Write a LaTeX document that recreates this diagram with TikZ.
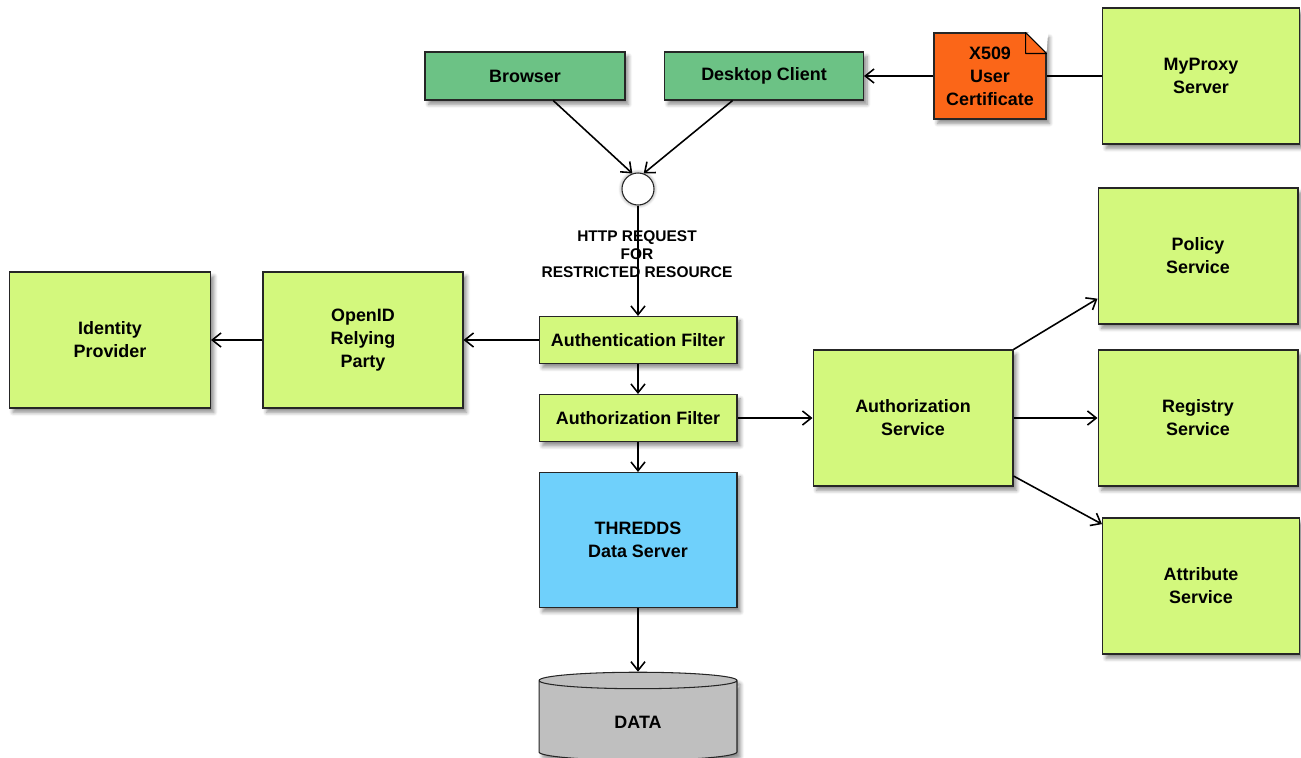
\documentclass[tikz,border=0pt]{standalone}
\usepackage{fontspec}
\setmainfont{Liberation Sans}
\usetikzlibrary{shapes.geometric,shadows.blur,arrows.meta}
\definecolor{svcgreen}{HTML}{D3F87D}
\definecolor{clientgreen}{HTML}{6CC285}
\definecolor{certorange}{HTML}{FB6618}
\definecolor{tdsblue}{HTML}{6FD0FB}

\begin{document}
\begin{tikzpicture}[x=0.02cm,y=-0.02cm,
  box/.style={draw=black!85, line width=0.6pt, align=center,
    font=\fontsize{10.2}{13}\selectfont\bfseries,
    blur shadow={shadow xshift=2pt, shadow yshift=-2.5pt, shadow opacity=45, shadow blur steps=6}},
  svc/.style={box, fill=svcgreen, minimum width=4cm, minimum height=2.72cm},
  filter/.style={box, fill=svcgreen, minimum width=3.96cm, minimum height=0.94cm},
  client/.style={box, fill=clientgreen, minimum height=0.96cm},
  link/.style={-{Straight Barb[length=5pt,width=8pt]}, line width=0.9pt}]
\useasboundingbox (0,0) rectangle (1301,757);

% clients
\node (browser) [client, minimum width=4cm] at (525,76) {Browser};
\node (desktop) [client, minimum width=3.98cm] at (764,76) {Desktop Client};
\node (cert) [box, fill=certorange, minimum width=2.24cm, minimum height=1.72cm] at (990,76) {X509\\User\\Certificate};
\fill[white] ([xshift=-0.42cm]cert.north east) -- ([xshift=1pt,yshift=1pt]cert.north east) -- ([yshift=-0.42cm]cert.north east) -- cycle;
\draw[fill=certorange, line width=0.6pt, line join=round] ([xshift=-0.42cm]cert.north east) -- ([xshift=-0.42cm,yshift=-0.42cm]cert.north east) -- ([yshift=-0.42cm]cert.north east) -- cycle;
\node (myproxy) [svc, minimum width=3.94cm] at (1201,76) {MyProxy\\Server};

% request
\node (req) [circle, draw=black!85, fill=white, line width=0.6pt, minimum size=0.64cm,
  blur shadow={shadow xshift=0pt, shadow yshift=0pt, shadow opacity=50, shadow blur steps=6}] at (638,189) {};
\node (reqlabel) [align=center, font=\fontsize{8.8}{10.2}\selectfont\bfseries] at (637,254) {HTTP REQUEST\\FOR\\RESTRICTED RESOURCE};

% filters and server
\node (authn) [filter] at (638,340) {Authentication Filter};
\node (authz) [filter] at (638,418) {Authorization Filter};
\node (tds) [box, fill=tdsblue, minimum width=3.96cm, minimum height=2.7cm] at (638,540) {THREDDS\\Data Server};
\node (data) [box, cylinder, shape border rotate=90, aspect=0.28, fill=black!25, minimum width=3.96cm, minimum height=1.76cm] at (638,722) {DATA};

% authentication side
\node (openid) [svc] at (363,340) {OpenID\\Relying\\Party};
\node (idp) [svc, minimum width=4.02cm] at (110,340) {Identity\\Provider};

% authorization side
\node (authsvc) [svc] at (913,418) {Authorization\\Service};
\node (policy) [svc] at (1198,256) {Policy\\Service};
\node (registry) [svc] at (1198,418) {Registry\\Service};
\node (attribute) [svc, minimum width=3.94cm] at (1201,586) {Attribute\\Service};

% connections
\draw[link] (browser.-41) -- (req.110);
\draw[link] (desktop.218) -- (req.70);
\draw[link] (cert.west) -- (desktop.east);
\draw[line width=0.9pt] (myproxy.west) -- (cert.east);
\draw[link] (req.south) -- (authn.north);
\draw[link] (authn.west) -- (openid.east);
\draw[link] (openid.west) -- (idp.east);
\draw[link] (authn.south) -- (authz.north);
\draw[link] (authz.south) -- (tds.north);
\draw[link] (tds.south) -- (data.north);
\draw[link] (authz.east) -- (authsvc.west);
\draw[link] (authsvc.north east) -- (policy.203);
\draw[link] (authsvc.east) -- (registry.west);
\draw[link] (authsvc.-30) -- (attribute.148);

\end{tikzpicture}
\end{document}
